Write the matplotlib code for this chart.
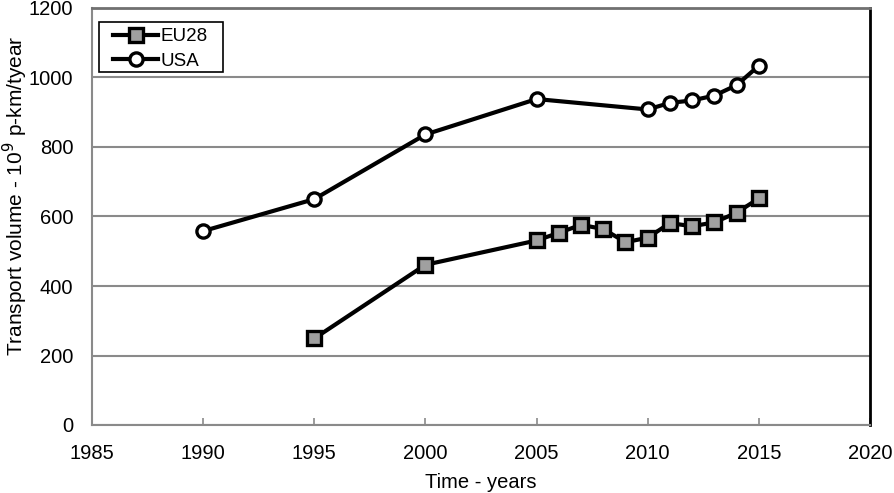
import matplotlib
matplotlib.use("Agg")
import matplotlib.pyplot as plt
from matplotlib.patches import Rectangle

plt.rcParams['font.family'] = ['Liberation Sans', 'DejaVu Sans']

eu_years = [1995, 2000, 2005, 2006, 2007, 2008, 2009, 2010, 2011, 2012, 2013, 2014, 2015]
eu_values = [249, 461, 531, 553, 576, 564, 526, 539, 581, 572, 583, 611, 652]
usa_years = [1990, 1995, 2000, 2005, 2010, 2011, 2012, 2013, 2014, 2015]
usa_values = [558, 650, 836, 938, 908, 927, 934, 948, 978, 1034]
x_ticks = [1985, 1990, 1995, 2000, 2005, 2010, 2015, 2020]
y_ticks = [0, 200, 400, 600, 800, 1000, 1200]

fig = plt.figure(figsize=(8.94, 4.93), dpi=100)
ax = fig.add_axes([92/894, 1-425/493, (870-92)/894, (425-8)/493])

ax.plot(eu_years, eu_values, color='black', lw=3, marker='s', ms=9.5,
        mfc='#a0a0a0', mec='black', mew=2.4, label='EU28', zorder=3)
ax.plot(usa_years, usa_values, color='black', lw=3, marker='o', ms=9.5,
        mfc='white', mec='black', mew=2.4, label='USA', zorder=3)

ax.set_xlim(1985, 2020)
ax.set_ylim(0, 1200)
ax.set_xticks(x_ticks)
ax.set_yticks(y_ticks)
ax.yaxis.grid(True, color='#8a8a8a', lw=1.5)
ax.set_axisbelow(True)
ax.tick_params(axis='x', direction='in', length=5, color='#8a8a8a', width=1.2, labelsize=14.5, pad=14)
ax.tick_params(axis='y', length=0, labelsize=14.5, pad=13.5)
for s in ['left', 'bottom']:
    ax.spines[s].set_color('#8a8a8a')
    ax.spines[s].set_linewidth(1.5)
ax.spines['top'].set_color('#707070')
ax.spines['top'].set_linewidth(2)
ax.spines['right'].set_color('black')
ax.spines['right'].set_linewidth(2)

ax.set_xlabel('Time - years', fontsize=14.5, labelpad=7)
ax.set_ylabel('Transport volume - 10$^{9}$ p-km/tyear', fontsize=15)
ax.yaxis.set_label_coords((30 - 92) / 778, (425 - 196) / 417)

# legend box (decoration)
ax.add_patch(Rectangle(((99 - 92) / 778, (425 - 72) / 417), (223 - 99) / 778, 50 / 417,
                       transform=ax.transAxes, facecolor='white', edgecolor='black',
                       lw=1.2, zorder=4, clip_on=False))
leg = ax.legend(loc='upper left', bbox_to_anchor=((113 - 92) / 778, (425 - 28) / 417),
                fontsize=13.5, frameon=False, handlelength=2.4, handletextpad=0.12,
                borderpad=0, labelspacing=0.4, borderaxespad=0)
leg.set_zorder(5)

fig.savefig('out.png', dpi=100)
